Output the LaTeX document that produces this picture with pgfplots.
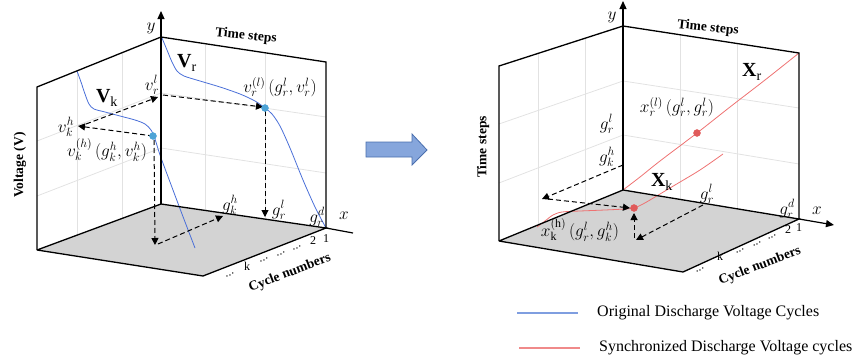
\documentclass[border=0pt]{standalone}
\usepackage{pgfplots}
\pgfplotsset{compat=1.18}
\usepackage{fontspec}
\setmainfont{Liberation Serif}
\usetikzlibrary{arrows.meta}
\definecolor{vblue}{HTML}{4A6FD8}
\definecolor{dotblue}{HTML}{4DA3D6}
\definecolor{sred}{HTML}{EE7272}
\definecolor{dotred}{HTML}{E05A5A}
\definecolor{gridc}{HTML}{E2E2E2}
\definecolor{floorc}{HTML}{D3D3D3}
\definecolor{arrfill}{HTML}{86A6DC}
\definecolor{arrdraw}{HTML}{4A6FAE}
\definecolor{legblue}{HTML}{7F9EE0}
\definecolor{legred}{HTML}{F08A8A}
\newcommand\lbl{\fontsize{17}{19}\selectfont}
\newcommand\boldlbl{\fontsize{13.5}{16}\selectfont\bfseries}
\newcommand\sml{\fontsize{12}{13}\selectfont}
\pgfplotsset{dsh/.style={black, dash pattern=on 5pt off 3pt, line width=1pt, -{Triangle[length=7pt,width=7pt]}}}
\tikzset{tk/.style={font=\sml, inner sep=0pt}}
\begin{document}
\begin{tikzpicture}
\begin{axis}[scale only axis, width=854pt, height=364pt,
  xmin=0, xmax=854, ymin=0, ymax=364, y dir=reverse,
  axis lines=none, clip=false]
\addplot[draw=none] coordinates {(0,0) (854,364)};
% ---------- LEFT PANEL ----------
\addplot[gridc, line width=0.8pt] coordinates {(37,141) (161,93) (326,117)};
\addplot[gridc, line width=0.8pt] coordinates {(37,196) (161,148) (326,173)};
\addplot[gridc, line width=0.8pt] coordinates {(77,71) (77,235)};
\addplot[gridc, line width=0.8pt] coordinates {(122,53) (122,218)};
\addplot[gridc, line width=0.8pt] coordinates {(205,44) (205,210)};
\addplot[gridc, line width=0.8pt] coordinates {(265,53) (265,219)};
\addplot[fill=floorc, draw=none] coordinates {(161,204) (326,228) (203,276) (37,250)} -- cycle;
\addplot[vblue, line width=0.8pt, smooth] coordinates {(77,71) (81,82) (85,94) (89,104) (94,109) (105,112) (120,116) (135,120) (145,124) (151,130) (155,139) (160,155) (170,182) (182,214) (195,248)};
\addplot[vblue, line width=0.8pt, smooth] coordinates {(162,38) (167,50) (172,62) (177,71) (184,76) (200,81) (220,87) (240,94) (255,101) (265,108) (272,114) (280,126) (290,148) (303,180) (315,207) (326,228)};
\addplot[dsh] coordinates {(153,136) (78,126)};
\addplot[dsh] coordinates {(86,124) (158,97)};
\addplot[dsh] coordinates {(163,95) (263,107)};
\addplot[dsh] coordinates {(265,111) (265,217)};
\addplot[dsh] coordinates {(154,140) (155,245)};
\addplot[dsh] coordinates {(158,244) (223,216)};
\addplot[only marks, mark=*, mark size=3.5pt, mark options={draw=dotblue, fill=dotblue}] coordinates {(153,136) (265,108)};
\addplot[black, line width=1.3pt] coordinates {(37,250) (37,87) (161,37) (326,62) (326,228)};
\addplot[black, line width=1.3pt] coordinates {(37,250) (161,204) (326,228) (203,276) (37,250)};
\addplot[black, line width=1.2pt] coordinates {(326,228) (353,233)};
\addplot[black, line width=1.2pt, -{Triangle[length=8pt,width=7pt]}] coordinates {(161,204) (161,11)};
\node[font=\lbl] at (axis cs:151,28) {$y$};
\node[font=\lbl] at (axis cs:344,216) {$x$};
\node[font=\boldlbl, rotate=-6] at (axis cs:246,36) {Time steps};
\node[font=\boldlbl, rotate=90] at (axis cs:20,165) {Voltage (V)};
\node[font=\boldlbl, rotate=21, inner sep=0pt] at (axis cs:290,273) {Cycle numbers};
\node[font=\fontsize{20}{22}\selectfont] at (axis cs:187,63) {$\mathbf{V}_{\mathrm{r}}$};
\node[font=\fontsize{20}{22}\selectfont] at (axis cs:107,98) {$\mathbf{V}_{\mathrm{k}}$};
\node[font=\lbl] at (axis cs:152,85) {$v_r^l$};
\node[font=\lbl] at (axis cs:66,127) {$v_k^h$};
\node[font=\lbl] at (axis cs:107,150) {$v_k^{(h)}\,(g_k^h, v_k^h)$};
\node[font=\lbl] at (axis cs:280,87) {$v_r^{(l)}\,(g_r^l, v_r^l)$};
\node[font=\lbl] at (axis cs:230,205) {$g_k^h$};
\node[font=\lbl] at (axis cs:279,210) {$g_r^l$};
\node[font=\lbl] at (axis cs:317,217) {$g_r^d$};
\node[tk] at (axis cs:326,239) {1};
\node[tk] at (axis cs:313,241) {2};
\node[tk, rotate=21] at (axis cs:297,248) {...};
\node[tk, rotate=21] at (axis cs:281,254) {...};
\node[tk, rotate=21] at (axis cs:264,260) {...};
\node[tk] at (axis cs:247,266) {k};
\node[tk, rotate=21] at (axis cs:230,275) {...};
% ---------- MIDDLE ARROW ----------
\addplot[fill=arrfill, draw=arrdraw, line width=0.8pt] coordinates {(366,142) (412,142) (412,134) (427,150) (412,165) (412,157) (366,157)} -- cycle;
% ---------- RIGHT PANEL ----------
\addplot[gridc, line width=0.8pt] coordinates {(499,124) (623,81) (799,108)};
\addplot[gridc, line width=0.8pt] coordinates {(499,183) (623,135) (799,164)};
\addplot[gridc, line width=0.8pt] coordinates {(538,53) (538,225)};
\addplot[gridc, line width=0.8pt] coordinates {(585,38) (585,206)};
\addplot[gridc, line width=0.8pt] coordinates {(680,35) (680,199)};
\addplot[gridc, line width=0.8pt] coordinates {(737,44) (737,209)};
\addplot[fill=floorc, draw=none] coordinates {(623,190) (799,219) (683,272) (499,241)} -- cycle;
\addplot[sred, line width=0.8pt, smooth] coordinates {(623,190) (640,177) (660,161) (697,133) (730,107) (765,80) (799,53)};
\addplot[sred, line width=0.8pt, smooth] coordinates {(537,227) (545,221) (553,215) (562,212) (580,211) (605,210) (625,209) (634,208) (643,204) (655,197) (675,185) (700,170) (723,154)};
\addplot[dsh] coordinates {(623,165) (542,199)};
\addplot[dsh] coordinates {(548,199) (630,208)};
\addplot[dsh] coordinates {(703,205) (636,240)};
\addplot[dsh] coordinates {(634,238) (634,213)};
\addplot[only marks, mark=*, mark size=3.5pt, mark options={draw=dotred, fill=dotred}] coordinates {(697,133) (634,208)};
\addplot[black, line width=1.3pt] coordinates {(499,241) (499,66) (623,26) (799,53) (799,219)};
\addplot[black, line width=1.3pt] coordinates {(499,241) (623,190) (799,219) (683,272) (499,241)};
\addplot[black, line width=1.2pt, -{Triangle[length=8pt,width=7pt]}] coordinates {(799,219) (834,225)};
\addplot[black, line width=1.2pt, -{Triangle[length=8pt,width=7pt]}] coordinates {(623,190) (623,1)};
\node[font=\lbl] at (axis cs:612,17) {$y$};
\node[font=\lbl] at (axis cs:817,211) {$x$};
\node[font=\boldlbl, rotate=-6] at (axis cs:708,28) {Time steps};
\node[font=\boldlbl, rotate=90] at (axis cs:483,147) {Time steps};
\node[font=\boldlbl, rotate=21, inner sep=0pt] at (axis cs:760,266) {Cycle numbers};
\node[font=\fontsize{20}{22}\selectfont] at (axis cs:752,72) {$\mathbf{X}_{\mathrm{r}}$};
\node[font=\fontsize{20}{22}\selectfont] at (axis cs:662,182) {$\mathbf{X}_{\mathrm{k}}$};
\node[font=\lbl] at (axis cs:677,107) {$x_r^{(l)}\,(g_r^l, g_r^l)$};
\node[font=\lbl] at (axis cs:607,124) {$g_r^l$};
\node[font=\lbl] at (axis cs:607,157) {$g_k^h$};
\node[font=\lbl] at (axis cs:707,194) {$g_r^l$};
\node[font=\lbl] at (axis cs:787,209) {$g_r^d$};
\node[font=\lbl] at (axis cs:580,230) {$x_{\mathrm{k}}^{(\mathrm{h})}\,(g_r^l, g_k^h)$};
\node[tk] at (axis cs:799,228) {1};
\node[tk] at (axis cs:788,230) {2};
\node[tk, rotate=21] at (axis cs:772,237) {...};
\node[tk, rotate=21] at (axis cs:757,244) {...};
\node[tk, rotate=21] at (axis cs:740,251) {...};
\node[tk] at (axis cs:720,256) {k};
\node[tk, rotate=21] at (axis cs:700,270) {...};
% ---------- LEGEND ----------
\addplot[legblue, line width=2pt] coordinates {(517,313) (578,313)};
\addplot[legred, line width=2pt] coordinates {(519,348) (580,348)};
\node[font=\fontsize{16}{18}\selectfont, anchor=west, inner sep=0pt] at (axis cs:597,313) {Original Discharge Voltage Cycles};
\node[font=\fontsize{16}{18}\selectfont, anchor=west, inner sep=0pt] at (axis cs:599,348) {Synchronized Discharge Voltage cycles};
\end{axis}
\end{tikzpicture}
\end{document}
